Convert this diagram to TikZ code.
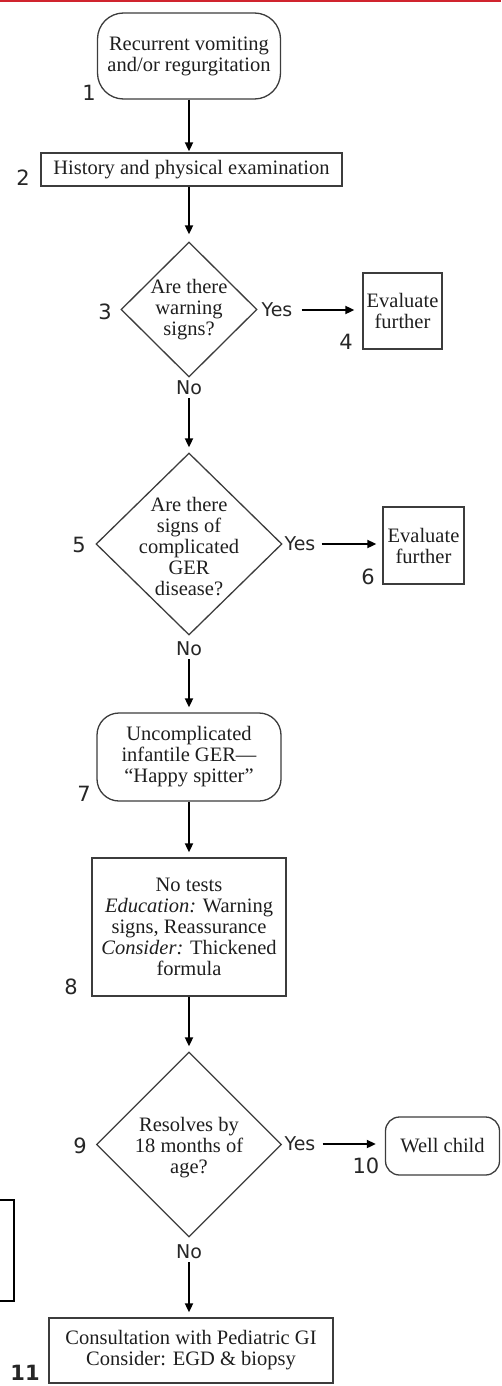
\documentclass[tikz,border=0pt]{standalone}
\usepackage{fontspec}
\setmainfont{Liberation Serif}
\newfontfamily\labfont{DejaVu Sans}
\usetikzlibrary{shapes.geometric,arrows.meta}
\definecolor{topred}{RGB}{208,36,46}
\definecolor{boxline}{RGB}{60,60,60}
\definecolor{boxtext}{RGB}{30,30,30}
\tikzset{
  x=1pt,y=-1pt,
  box/.style={draw=boxline, line width=1.3pt, align=center, inner sep=0pt,
     text=boxtext, font=\fontsize{20.5}{21}\selectfont},
  rbox/.style={box, rounded corners=#1},
  dia/.style={draw=boxline, line width=1.3pt, shape=diamond, inner sep=0pt},
  diatext/.style={align=center, text=boxtext, font=\fontsize{20.5}{21}\selectfont, inner sep=0pt},
  numlab/.style={font=\labfont\fontsize{21}{21}\selectfont, inner sep=0pt, text=black!85},
  yn/.style={font=\labfont\fontsize{19}{19}\selectfont, inner sep=0pt, text=black!85},
  arr/.style={line width=1.8pt, -{Triangle[length=9pt,width=8pt]}, shorten >=5pt},
}
\begin{document}
\begin{tikzpicture}
\useasboundingbox (0,0) rectangle (501,1386);
\fill[topred] (0,0) rectangle (501,2.5);

% nodes
\node[rbox=26pt, minimum width=183pt, minimum height=86pt] (n1) at (189,56) {Recurrent vomiting\\and/or regurgitation};
\node[box, minimum width=301pt, minimum height=33pt] (n2) at (191.5,169.5) {History and physical examination};
\node[dia, minimum width=136pt, minimum height=135pt] (d3) at (189,309.5) {};
\node[diatext] (t3) at (189,310) {Are there\\warning\\signs?};
\node[box, minimum width=79pt, minimum height=76pt] (n4) at (402.5,311) {Evaluate\\further};
\node[dia, minimum width=186pt, minimum height=182pt] (d5) at (189,544) {};
\node[diatext] (t5) at (189,547) {Are there\\signs of\\complicated\\GER\\disease?};
\node[box, minimum width=81pt, minimum height=77pt] (n6) at (423.5,545.5) {Evaluate\\further};
\node[rbox=22pt, minimum width=184pt, minimum height=88pt] (n7) at (189,757) {Uncomplicated\\infantile GER---\\``Happy spitter''};
\node[box, minimum width=194pt, minimum height=138pt] (n8) at (189,927) {No tests\\\textit{Education:} Warning\\signs, Reassurance\\\textit{Consider:} Thickened\\formula};
\node[dia, minimum width=185pt, minimum height=185pt] (d9) at (189,1144.5) {};
\node[diatext] (t9) at (189,1148) {Resolves by\\18 months of\\age?};
\node[rbox=14pt, minimum width=114pt, minimum height=58pt] (n10) at (442.5,1146) {Well child};
\node[box, minimum width=284pt, minimum height=65pt] (n11) at (191,1350.5) {Consultation with Pediatric GI\\Consider: EGD \& biopsy};

% number labels
\node[numlab] (l1) at (89,93) {1};
\node[numlab] (l2) at (23,178) {2};
\node[numlab] (l3) at (105,312) {3};
\node[numlab] (l4) at (346,342) {4};
\node[numlab] (l5) at (79,545) {5};
\node[numlab] (l6) at (368,577) {6};
\node[numlab] (l7) at (84,794) {7};
\node[numlab] (l8) at (71,987) {8};
\node[numlab] (l9) at (80,1146) {9};
\node[numlab] (l10) at (366,1166) {10};
\node[numlab, font=\labfont\bfseries\fontsize{21}{21}\selectfont] (l11) at (25,1373) {11};

% yes / no labels
\node[yn] (y3) at (277,310) {Yes};
\node[yn] (y5) at (300,544) {Yes};
\node[yn] (y9) at (300,1144) {Yes};
\node[yn] (no3) at (189,388) {No};
\node[yn] (no5) at (189,649) {No};
\node[yn] (no9) at (189,1252) {No};

% connectors
\draw[arr, shorten >=1pt] (n1.south) -- (n1.south |- n2.north);
\draw[arr, shorten >=7pt] (n2.south -| d3.north) -- (d3.north);
\draw[arr, shorten <=9pt, shorten >=8pt] (y3.east) -- (y3.east -| n4.west);
\draw[arr, shorten <=3pt] (no3.south) -- (d5.north);
\draw[arr, shorten <=6pt, shorten >=6pt] (y5.east) -- (y5.east -| n6.west);
\draw[arr, shorten <=3pt] (no5.south) -- (n7.north);
\draw[arr] (n7) -- (n8);
\draw[arr] (n8.south) -- (d9.north);
\draw[arr, shorten <=7pt, shorten >=9pt] (y9.east) -- (y9.east -| n10.west);
\draw[arr, shorten <=3pt] (no9.south) -- (n11.north -| no9.south);

% fragment of a box cut off at the left edge
\draw[line width=2pt] (0,1200) -- (14,1200) -- (14,1301) -- (0,1301);
\end{tikzpicture}
\end{document}
